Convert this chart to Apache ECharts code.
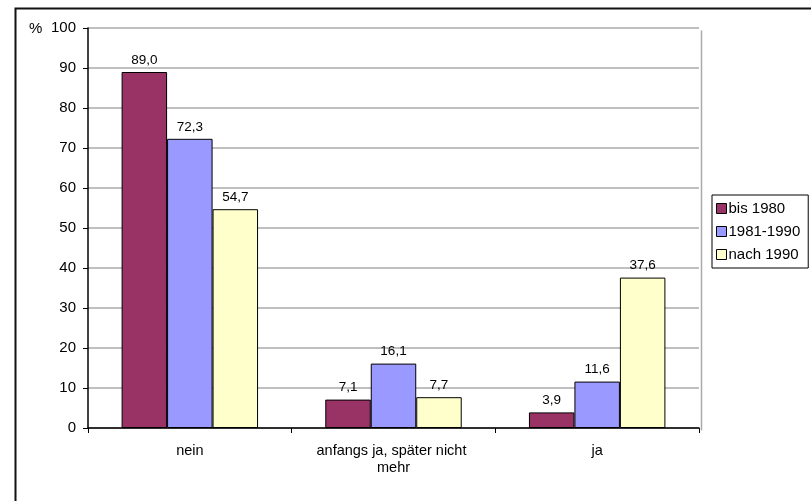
<!DOCTYPE html>
<html>
<head>
<meta charset="utf-8">
<script src="https://cdn.jsdelivr.net/npm/echarts@6/dist/echarts.min.js"></script>
<style>
html,body{margin:0;padding:0;background:#fff;}
#c{width:811px;height:501px;}
</style>
</head>
<body>
<div id="c"></div>
<script>
var categories = ['nein', 'anfangs ja, später nicht mehr', 'ja'];
var seriesNames = ['bis 1980', '1981-1990', 'nach 1990'];
var bis1980 = [89.0, 7.1, 3.9];
var s1981_1990 = [72.3, 16.1, 11.6];
var nach1990 = [54.7, 7.7, 37.6];
var yTicks = [0, 10, 20, 30, 40, 50, 60, 70, 80, 90, 100];
var colors = ['#993366', '#9999FF', '#FFFFCC'];

var font = 'Arial, "Liberation Sans", sans-serif';
function mk(name, data, color) {
  return {
    name: name,
    type: 'bar',
    data: data,
    barGap: '0%',
    barCategoryGap: '33%',
    itemStyle: { color: color, borderColor: '#000', borderWidth: 1 },
    label: {
      show: true, position: 'top', distance: 5,
      fontFamily: font, fontSize: 13.5, color: '#000',
      formatter: function (p) { return p.value.toFixed(1).replace('.', ','); }
    }
  };
}
var chart = echarts.init(document.getElementById('c'));
chart.setOption({
  animation: false,
  backgroundColor: '#fff',
  graphic: [
    { type: 'rect', left: 13, top: 6, shape: { x: 0, y: 0, width: 850, height: 560 },
      style: { fill: 'none', stroke: '#111', lineWidth: 2 }, silent: true },
    { type: 'rect', left: 699, top: 28, shape: { x: 0, y: 0, width: 0, height: 400 },
      style: { fill: 'none', stroke: '#aaa', lineWidth: 1.5 }, silent: true },
    { type: 'text', left: 29, top: 21, style: { text: '%', fontFamily: font, fontSize: 15, fill: '#000' } }
  ],
  legend: {
    orient: 'vertical',
    left: 712, top: 195,
    data: seriesNames,
    itemWidth: 10, itemHeight: 10, itemGap: 8,
    icon: 'rect',
    padding: [6, 8, 6, 4],
    borderColor: '#000', borderWidth: 1,
    itemStyle: { borderColor: '#000', borderWidth: 1 },
    textStyle: { fontFamily: font, fontSize: 15, color: '#000', padding: [0, 0, 0, -3] }
  },
  grid: { left: 88, top: 28, right: 112, bottom: 73, containLabel: false },
  xAxis: {
    type: 'category',
    data: categories,
    axisLine: { lineStyle: { color: '#000', width: 1.5 } },
    axisTick: { show: true, length: 5, lineStyle: { color: '#000' } },
    axisLabel: { fontFamily: font, fontSize: 14.5, color: '#000', margin: 14, width: 180, overflow: 'break', lineHeight: 17, interval: 0 }
  },
  yAxis: {
    type: 'value',
    min: 0, max: 100, interval: 10,
    axisLine: { show: true, lineStyle: { color: '#000', width: 1.5 } },
    axisTick: { show: true, length: 5, lineStyle: { color: '#000' } },
    axisLabel: { fontFamily: font, fontSize: 15, color: '#000', margin: 12 },
    splitLine: { lineStyle: { color: '#aaa', width: 1.5 } }
  },
  series: [mk(seriesNames[0], bis1980, colors[0]), mk(seriesNames[1], s1981_1990, colors[1]), mk(seriesNames[2], nach1990, colors[2])]
});
</script>
</body>
</html>
